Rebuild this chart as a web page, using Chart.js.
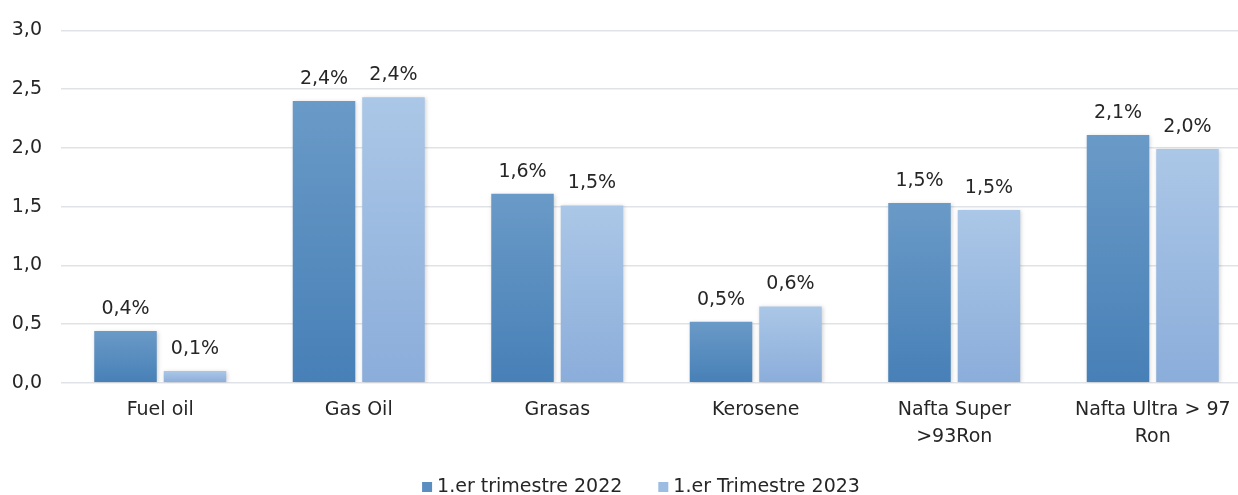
<!DOCTYPE html>
<html>
<head>
<meta charset="utf-8">
<script src="https://cdn.jsdelivr.net/npm/chart.js@4.4.0/dist/chart.umd.min.js"></script>
<style>
  html, body { margin: 0; padding: 0; background: #fff; overflow: hidden; }
  #wrap { position: relative; width: 1252px; height: 495px; }
</style>
</head>
<body>
<div id="wrap"><canvas id="chart"></canvas></div>
<script>
/* DATA */
const categories = ["Fuel oil", "Gas Oil", "Grasas", "Kerosene", ["Nafta Super", ">93Ron"], ["Nafta Ultra > 97", "Ron"]];
const seriesNames = ["1.er trimestre 2022", "1.er Trimestre 2023"];
const values2022 = [0.44, 2.40, 1.61, 0.52, 1.53, 2.11];
const values2023 = [0.10, 2.43, 1.51, 0.65, 1.47, 1.99];
const labels2022 = ["0,4%", "2,4%", "1,6%", "0,5%", "1,5%", "2,1%"];
const labels2023 = ["0,1%", "2,4%", "1,5%", "0,6%", "1,5%", "2,0%"];
const yTicks = [0, 0.5, 1, 1.5, 2, 2.5, 3];

const FONT = "'DejaVu Sans', sans-serif";
const TEXT = "#262626";
const SIZE = 19;
const legendColors = ["#5a8dc0", "#9dbce2"];

// per-bar vertical gradient, like the spreadsheet fill
function barGradient(top, bottom) {
  return (ctx) => {
    const chart = ctx.chart;
    const y = chart.scales.y;
    if (!y || ctx.dataIndex === undefined) return bottom;
    const v = ctx.dataset.data[ctx.dataIndex];
    const y0 = y.getPixelForValue(v);
    const y1 = y.getPixelForValue(0);
    if (!isFinite(y0) || !isFinite(y1) || y0 === y1) return bottom;
    const g = chart.ctx.createLinearGradient(0, y0, 0, y1);
    g.addColorStop(0, top);
    g.addColorStop(1, bottom);
    return g;
  };
}

const valueLabels = {
  id: "valueLabels",
  afterDatasetsDraw(chart) {
    const c = chart.ctx;
    const texts = [labels2022, labels2023];
    c.save();
    c.font = SIZE + "px " + FONT;
    c.fillStyle = TEXT;
    c.textAlign = "center";
    c.textBaseline = "middle";
    chart.data.datasets.forEach((ds, i) => {
      chart.getDatasetMeta(i).data.forEach((bar, j) => {
        c.fillText(texts[i][j], bar.x, bar.y - 22);
      });
    });
    c.restore();
  }
};

const barShadow = {
  id: "barShadow",
  beforeDatasetsDraw(chart) {
    const c = chart.ctx;
    c.save();
    c.shadowColor = "rgba(0,0,0,0.18)";
    c.shadowBlur = 4;
    c.shadowOffsetX = 1;
    c.shadowOffsetY = 1;
  },
  afterDatasetsDraw(chart) {
    chart.ctx.restore();
  }
};

// legend drawn by hand: small squares, tight gap to the text
const bottomLegend = {
  id: "bottomLegend",
  afterDraw(chart) {
    const c = chart.ctx;
    c.save();
    c.font = SIZE + "px " + FONT;
    c.textBaseline = "middle";
    const box = 10, gap = 5, spacing = 36;
    const widths = seriesNames.map((s) => c.measureText(s).width);
    const total = widths.reduce((a, w) => a + box + gap + w, 0) + spacing * (seriesNames.length - 1);
    let x = 641 - total / 2;
    const y = 487;
    seriesNames.forEach((s, i) => {
      c.fillStyle = legendColors[i];
      c.fillRect(x, y - box / 2, box, box);
      x += box + gap;
      c.fillStyle = TEXT;
      c.fillText(s, x, y);
      x += widths[i] + spacing;
    });
    c.restore();
  }
};

new Chart(document.getElementById("chart"), {
  type: "bar",
  data: {
    labels: categories,
    datasets: [
      {
        label: seriesNames[0],
        data: values2022,
        backgroundColor: barGradient("#6a9ac7", "#4780b7"),
        categoryPercentage: 0.7,
        barPercentage: 0.9
      },
      {
        label: seriesNames[1],
        data: values2023,
        backgroundColor: barGradient("#abc7e7", "#8badda"),
        categoryPercentage: 0.7,
        barPercentage: 0.9
      }
    ]
  },
  options: {
    responsive: true,
    maintainAspectRatio: false,
    animation: false,
    layout: { padding: { top: 12, right: 0, left: 0, bottom: 39 } },
    plugins: {
      tooltip: { enabled: false },
      legend: { display: false }
    },
    scales: {
      x: {
        grid: { display: false },
        border: { display: false },
        ticks: { font: { family: FONT, size: SIZE, lineHeight: 1.4 }, color: TEXT, padding: 6, maxRotation: 0, autoSkip: false }
      },
      y: {
        min: 0,
        max: 3,
        afterBuildTicks: (axis) => { axis.ticks = yTicks.map((v) => ({ value: v })); },
        afterFit: (axis) => { axis.width = 61; },
        grid: { color: "#dfe3e8", lineWidth: 1.5, drawTicks: false },
        border: { display: false },
        ticks: {
          font: { family: FONT, size: SIZE },
          color: TEXT,
          padding: 19,
          callback: (v) => v.toFixed(1).replace(".", ",")
        }
      }
    }
  },
  plugins: [barShadow, valueLabels, bottomLegend]
});
</script>
</body>
</html>
